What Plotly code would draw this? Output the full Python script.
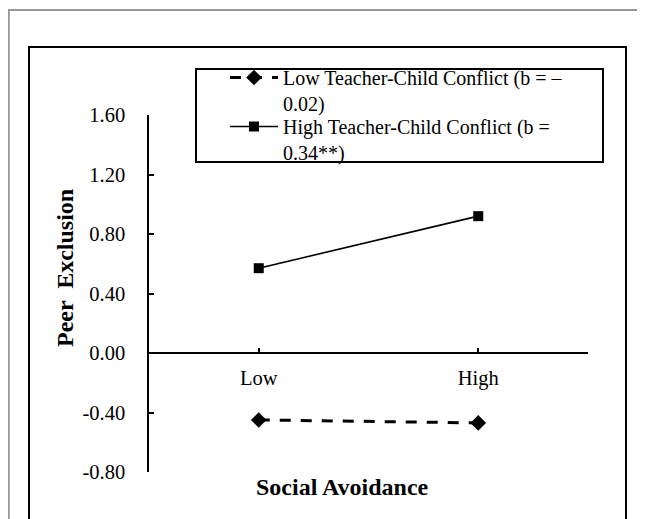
import plotly.graph_objects as go

categories = ["Low", "High"]
low_conflict = [-0.45, -0.47]
high_conflict = [0.57, 0.92]
series_names = ["Low Teacher-Child Conflict (b = –<br>0.02)",
                "High Teacher-Child Conflict (b =<br>0.34**)"]
y_ticks = [-0.8, -0.4, 0.0, 0.4, 0.8, 1.2, 1.6]
y_ticktext = ["-0.80", "-0.40", "0.00", "0.40", "0.80", "1.20", "1.60"]

FONT = "Liberation Serif, Times New Roman, serif"
OFF = 8                      # page body margin
W, H = 645 - OFF, 519 - OFF  # figure size
# plot area in window pixel coordinates
L, R, T, B = 149, 588, 115, 472
pw, ph = R - L, B - T

def px(x):
    return (x - L) / pw

def py(y):
    return (B - y) / ph

xpos = [0, 1]

fig = go.Figure()
fig.add_trace(go.Scatter(
    x=xpos, y=low_conflict, name=series_names[0], mode="lines+markers",
    line=dict(color="black", width=3, dash="11px,10px"),
    marker=dict(symbol="diamond", size=12, color="black"),
    legend="legend",
))
fig.add_trace(go.Scatter(
    x=xpos, y=high_conflict, name=series_names[1], mode="lines+markers",
    line=dict(color="black", width=1.6),
    marker=dict(symbol="square", size=10, color="black"),
    legend="legend2",
))

leg_common = dict(
    xanchor="left", yanchor="top", borderwidth=0, bgcolor="rgba(0,0,0,0)",
    font=dict(family=FONT, size=20, color="black"),
    valign="top", tracegroupgap=0, itemwidth=48,
)

fig.update_layout(
    width=W, height=H,
    margin=dict(l=L - OFF, r=W - (R - OFF), t=T - OFF, b=H - (B - OFF), pad=0),
    paper_bgcolor="white", plot_bgcolor="white",
    font=dict(family=FONT, size=20.5, color="black"),
    showlegend=True,
    legend=dict(x=px(225), y=py(58), **leg_common),
    legend2=dict(x=px(225), y=py(107), **leg_common),
    xaxis=dict(
        range=[-0.5, 1.5], anchor="free", position=1 / 3,
        tickvals=[-0.5, 0, 1, 1.5], ticktext=["", categories[0], categories[1], ""],
        ticks="inside", ticklen=4, tickwidth=1.5, tickcolor="black",
        showline=True, linecolor="black", linewidth=1.5,
        showgrid=False, zeroline=False, ticklabelstandoff=7,
        tickfont=dict(family=FONT, size=20.5),
    ),
    yaxis=dict(
        range=[-0.8, 1.6], domain=[0, 1],
        tickvals=y_ticks, ticktext=y_ticktext,
        ticks="inside", ticklen=5, tickwidth=1.5, tickcolor="black",
        showline=True, linecolor="black", linewidth=1.5,
        showgrid=False, zeroline=False, ticklabelstandoff=18,
        tickfont=dict(family=FONT, size=20.5),
    ),
    shapes=[
        dict(type="rect", xref="paper", yref="paper",
             x0=px(8.8), x1=px(660), y0=py(10), y1=py(540),
             line=dict(color="#999999", width=2)),
        dict(type="rect", xref="paper", yref="paper",
             x0=px(29), x1=px(626), y0=py(47), y1=py(540),
             line=dict(color="black", width=2)),
        dict(type="rect", xref="paper", yref="paper",
             x0=px(196), x1=px(603), y0=py(69), y1=py(162),
             line=dict(color="black", width=2)),
    ],
    annotations=[
        dict(text="<b>Peer  Exclusion</b>", x=px(65), y=py(268), xref="paper", yref="paper",
             textangle=-90, showarrow=False, xanchor="center", yanchor="middle",
             font=dict(family=FONT, size=24)),
        dict(text="<b>Social Avoidance</b>", x=px(342), y=py(487), xref="paper", yref="paper",
             showarrow=False, xanchor="center", yanchor="middle",
             font=dict(family=FONT, size=24)),
    ],
)

fig.write_html("out.html")
